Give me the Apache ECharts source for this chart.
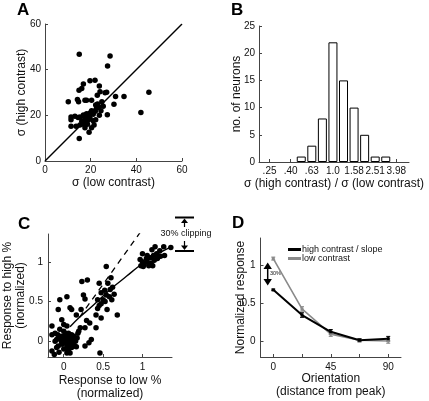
<!DOCTYPE html>
<html><head><meta charset="utf-8">
<script src="https://cdn.jsdelivr.net/npm/echarts@6/dist/echarts.min.js"></script>
<style>html,body{margin:0;padding:0;background:#fff}#c{width:429px;height:401px}</style>
</head><body><div id="c"></div>
<script>
// ---- Panel A data: sigma low contrast vs sigma high contrast ----
const sigmaPoints = [
[15.0,46.7],[28.5,46.0],[27.4,41.6],[45.5,30.1],[42.0,21.2],[34.6,28.2],[30.9,28.2],[30.2,24.9],[27.3,20.3],
[19.7,35.1],[21.9,35.4],[16.8,33.7],[16.1,31.8],[14.9,31.0],[10.2,25.9],[14.2,26.9],[14.7,25.9],[17.5,26.6],
[18.2,26.6],[23.8,32.8],[24.1,30.3],[22.9,28.8],[26.3,29.9],[27.0,30.1],[20.4,26.6],[11.4,19.3],[11.4,18.1],
[11.4,15.2],[13.6,15.2],[15.0,9.8],[13.1,19.6],[15.3,19.3],[16.8,20.2],[17.5,18.8],[18.2,20.7],[18.9,19.6],
[19.7,18.8],[16.1,17.4],[15.3,15.8],[16.8,16.1],[17.5,14.6],[18.6,16.1],[19.3,12.6],[20.4,14.6],[21.1,17.6],
[21.1,20.5],[21.9,22.0],[22.6,23.4],[23.4,23.4],[22.2,18.1],[21.5,15.8],[24.5,22.0],[23.8,20.0],[20.4,22.0],
[19.7,21.0],[24.9,26.0],[22.2,24.5],[17.0,19.6],[18.0,17.5],[19.0,18.0],[20.8,21.0],[22.0,21.8],[25.5,24.0],
[23.0,25.0],[14.5,19.0]
];
const unityLine = [[0,0],[60,60]];

// ---- Panel B data: histogram of log10 ratio ----
const ratioBinCenters = [-0.3,-0.2,-0.1,0,0.1,0.2,0.3,0.4,0.5];
const ratioCounts = [1,3,8,22,15,10,5,1,1];
const ratioTickPos = [-0.6,-0.4,-0.2,0,0.2,0.4,0.6];
const ratioTickLabels = ['.25','.40','.63','1.0','1.58','2.51','3.98'];

// ---- Panel C data ----
const responsePoints = [
[1.00,1.10],[1.06,1.08],[1.12,1.15],[1.16,1.19],[1.27,1.19],[1.22,1.14],[1.18,1.10],[1.14,1.08],[1.10,1.05],
[1.05,1.04],[1.00,1.00],[1.02,0.97],[0.98,0.95],[1.06,1.00],[1.11,0.98],[1.15,1.02],[1.19,1.04],[1.23,1.07],
[1.28,1.08],[1.13,0.95],[1.08,0.95],[1.01,0.94],[0.97,1.03],[1.36,1.18],
[0.54,0.94],[0.23,0.75],[0.30,0.77],[-0.05,0.52],[0.04,0.56],[0.08,0.42],[0.10,0.40],[0.22,0.40],[0.25,0.58],
[0.27,0.53],[0.45,0.73],[0.60,0.80],[0.56,0.73],[0.62,0.68],[0.59,0.65],[0.475,0.61],[0.52,0.64],[0.54,0.58],
[0.58,0.56],[0.64,0.59],[0.50,0.52],[0.475,0.47],[0.45,0.45],[0.43,0.41],[0.41,0.33],[0.41,0.17],[0.475,0.29],
[0.525,0.50],[0.61,0.52],[0.68,0.33],[0.46,-0.15],[0.55,0.40],[0.43,0.52],[0.33,0.23],[0.27,0.17],[0.29,0.26],
[0.16,0.33],[-0.07,0.40],[-0.025,0.27],
[-0.15,0.19],[-0.11,0.10],[-0.15,0.08],[-0.15,-0.125],[-0.12,-0.17],[-0.07,-0.06],[-0.09,0.02],[-0.05,0.04],
[-0.025,-0.02],[-0.05,0.15],[0.0,0.125],[0.02,0.10],[0.04,0.06],[0.06,0.02],[0.08,0.05],[0.10,0.08],[0.0,0.02],
[0.02,-0.02],[0.04,-0.06],[0.06,-0.11],[0.08,-0.15],[0.10,-0.08],[0.12,-0.02],[0.14,-0.06],[0.15,0.0],[0.17,0.04],
[0.18,0.10],[0.19,0.125],[0.21,0.17],[0.16,-0.07],[0.27,-0.06],[0.32,-0.02],[0.35,0.02],[0.0,0.21],[0.04,0.19],
[0.04,-0.15],[0.0,-0.10],[-0.09,-0.08],[-0.06,-0.14],[-0.025,0.06],[0.01,0.05],[0.025,0.03],[0.05,0.0],
[-0.02,-0.04],[-0.03,0.0],[0.07,-0.04],[0.09,0.0],[0.11,0.03],[0.13,0.06],[0.06,0.10],[-0.075,0.08],[-0.11,0.0]
];
const fitCurve = [[0.08,0.18],[0.2,0.3],[0.35,0.43],[0.5,0.57],[0.65,0.7],[0.8,0.82],[0.95,0.94],[1.1,1.05],[1.25,1.13],[1.35,1.18]];
const slopeLine = [[0.2,0.3],[1.1,1.55]];
const respTicks = [0,0.5,1];

// ---- Panel D data ----
const orientations = [0,22.5,45,67.5,90];
const orientLabels = [0,45,90];
const highContrast = [0.68,0.35,0.13,0.02,0.04];
const highErr = [0.01,0.03,0.03,0.02,0.03];
const lowContrast = [1.09,0.43,0.10,0.02,0.01];
const lowErr = [0.02,0.03,0.03,0.02,0.03];

const FONT = '"Liberation Sans", Arial, Helvetica, sans-serif';
const AX = '#444';
function axisBase(extra){
  return Object.assign({
    type:'value', splitLine:{show:false},
    axisLine:{show:true,onZero:false,lineStyle:{color:AX,width:1}},
    axisTick:{show:true,inside:true,length:3,lineStyle:{color:AX}},
    axisLabel:{fontFamily:FONT,fontSize:10,color:'#111',margin:4},
    nameLocation:'middle', nameMoveOverlap:false,
    nameTextStyle:{fontFamily:FONT,fontSize:12,color:'#111',lineHeight:13}
  }, extra);
}
function pairs(xs, ys){ return xs.map((x,i)=>[x,ys[i]]); }
function errItem(color){
  return function(params, api){
    const x = api.value(0), lo = api.value(1), hi = api.value(2);
    const p1 = api.coord([x,lo]), p2 = api.coord([x,hi]);
    return {type:'group',children:[
      {type:'line',shape:{x1:p1[0],y1:p1[1],x2:p2[0],y2:p2[1]},style:{stroke:color,lineWidth:1.2}},
      {type:'line',shape:{x1:p1[0]-2,y1:p1[1],x2:p1[0]+2,y2:p1[1]},style:{stroke:color,lineWidth:1}},
      {type:'line',shape:{x1:p2[0]-2,y1:p2[1],x2:p2[0]+2,y2:p2[1]},style:{stroke:color,lineWidth:1}}
    ]};
  };
}

const chart = echarts.init(document.getElementById('c'), null, {renderer:'canvas'});
const option = {
  animation:false,
  backgroundColor:'#fff',
  grid:[
    {left:45, top:24, width:137, height:137},
    {left:259, top:26, width:150, height:136},
    {left:46, top:234, width:126, height:124},
    {left:260.5, top:238, width:140.5, height:119}
  ],
  xAxis:[
    axisBase({gridIndex:0,min:0,max:60,interval:20,name:'σ (low contrast)',nameGap:15}),
    axisBase({gridIndex:1,min:-0.7,max:0.72,name:'σ (high contrast) / σ (low contrast)',nameGap:15,
      axisTick:{show:true,inside:true,length:3,lineStyle:{color:AX},customValues:ratioTickPos},
      axisLabel:{fontFamily:FONT,fontSize:10,color:'#111',margin:4,customValues:ratioTickPos,
        formatter:function(v){const i=ratioTickPos.findIndex(t=>Math.abs(t-v)<1e-6);return i>=0?ratioTickLabels[i]:'';}}}),
    axisBase({gridIndex:2,min:-0.2,max:1.375,name:'Response to low %\n(normalized)',nameGap:17,
      axisTick:{show:true,inside:true,length:3,lineStyle:{color:AX},customValues:respTicks},
      axisLabel:{fontFamily:FONT,fontSize:10,color:'#111',margin:5,customValues:respTicks}}),
    axisBase({gridIndex:3,min:-10,max:100,name:'Orientation\n(distance from peak)',nameGap:15,
      axisTick:{show:true,inside:true,length:3,lineStyle:{color:AX},customValues:orientations},
      axisLabel:{fontFamily:FONT,fontSize:10,color:'#111',margin:5,customValues:orientLabels}})
  ],
  yAxis:[
    axisBase({gridIndex:0,min:0,max:60,interval:20,name:'σ (high contrast)',nameGap:17}),
    axisBase({gridIndex:1,min:0,max:25,interval:5,name:'no. of neurons',nameGap:16}),
    axisBase({gridIndex:2,min:-0.2,max:1.35,name:'Response to high %\n(normalized)',nameGap:21,
      axisTick:{show:true,inside:true,length:3,lineStyle:{color:AX},customValues:respTicks},
      axisLabel:{fontFamily:FONT,fontSize:10,color:'#111',margin:5,customValues:respTicks}}),
    axisBase({gridIndex:3,min:-0.2,max:1.36,name:'Normalized response',nameGap:13,
      axisTick:{show:true,inside:true,length:3,lineStyle:{color:AX},customValues:[0,0.5,1]},
      axisLabel:{fontFamily:FONT,fontSize:10,color:'#111',margin:5,customValues:[0,0.5,1]}})
  ],
  legend:{
    left:283, top:240, orient:'vertical', itemWidth:13, itemHeight:3, itemGap:0, icon:'rect',
    textStyle:{fontFamily:FONT,fontSize:9,color:'#111',padding:[0,0,0,-4]},
    data:['high contrast / slope','low contrast']
  },
  series:[
    {type:'line',xAxisIndex:0,yAxisIndex:0,data:unityLine,symbol:'none',lineStyle:{color:'#000',width:1.4},silent:true},
    {type:'scatter',xAxisIndex:0,yAxisIndex:0,data:sigmaPoints,symbolSize:5.5,itemStyle:{color:'#000',opacity:1}},
    {type:'bar',xAxisIndex:1,yAxisIndex:1,data:pairs(ratioBinCenters,ratioCounts),barWidth:9,
      itemStyle:{color:'#fff',borderColor:'#000',borderWidth:1}},
    {type:'line',xAxisIndex:2,yAxisIndex:2,data:slopeLine,symbol:'none',lineStyle:{color:'#000',width:1.3,type:[6,5]}},
    {type:'line',xAxisIndex:2,yAxisIndex:2,data:fitCurve,symbol:'none',smooth:true,lineStyle:{color:'#000',width:1.4}},
    {type:'scatter',xAxisIndex:2,yAxisIndex:2,data:responsePoints,symbolSize:5.5,itemStyle:{color:'#000',opacity:1}},
    {name:'low contrast',type:'line',xAxisIndex:3,yAxisIndex:3,data:pairs(orientations,lowContrast),symbol:'rect',symbolSize:3,
      itemStyle:{color:'#8a8a8a'},lineStyle:{color:'#8a8a8a',width:1.6}},
    {type:'custom',xAxisIndex:3,yAxisIndex:3,renderItem:errItem('#8a8a8a'),
      data:orientations.map((o,i)=>[o,lowContrast[i]-lowErr[i],lowContrast[i]+lowErr[i]])},
    {name:'high contrast / slope',type:'line',xAxisIndex:3,yAxisIndex:3,data:pairs(orientations,highContrast),symbol:'rect',symbolSize:3,
      itemStyle:{color:'#000'},lineStyle:{color:'#000',width:2}},
    {type:'custom',xAxisIndex:3,yAxisIndex:3,renderItem:errItem('#000'),
      data:orientations.map((o,i)=>[o,highContrast[i]-highErr[i],highContrast[i]+highErr[i]])}
  ],
  graphic:[
    {type:'text',left:17,top:2,style:{text:'A',font:'bold 17px '+FONT,fill:'#000'}},
    {type:'text',left:231,top:2,style:{text:'B',font:'bold 17px '+FONT,fill:'#000'}},
    {type:'text',left:18,top:216,style:{text:'C',font:'bold 17px '+FONT,fill:'#000'}},
    {type:'text',left:232,top:215,style:{text:'D',font:'bold 17px '+FONT,fill:'#000'}},
    // C: 30% clipping annotation
    {type:'rect',shape:{x:175,y:216.5,width:19,height:2},style:{fill:'#000'}},
    {type:'polygon',shape:{points:[[184.5,218.5],[181,223],[188,223]]},style:{fill:'#000'}},
    {type:'line',shape:{x1:184.5,y1:222,x2:184.5,y2:227},style:{stroke:'#000',lineWidth:1.2}},
    {type:'text',x:186,y:234,style:{text:'30% clipping',font:'9px '+FONT,fill:'#111',align:'center',verticalAlign:'middle'}},
    {type:'line',shape:{x1:184.5,y1:241,x2:184.5,y2:246},style:{stroke:'#000',lineWidth:1.2}},
    {type:'polygon',shape:{points:[[184.5,250],[181,245.5],[188,245.5]]},style:{fill:'#000'}},
    {type:'rect',shape:{x:175,y:250,width:19,height:2},style:{fill:'#000'}},
    // D: 30% double arrow
    {type:'line',shape:{x1:267.7,y1:267,x2:267.7,y2:281},style:{stroke:'#000',lineWidth:1.5}},
    {type:'polygon',shape:{points:[[267.7,262.5],[263.5,269],[271.9,269]]},style:{fill:'#000'}},
    {type:'polygon',shape:{points:[[267.7,285.5],[263.5,279],[271.9,279]]},style:{fill:'#000'}},
    {type:'text',x:270,y:273.5,style:{text:'30%',font:'5.5px '+FONT,fill:'#111',verticalAlign:'middle'}}
  ]
};
chart.setOption(option);
</script>
</body></html>
